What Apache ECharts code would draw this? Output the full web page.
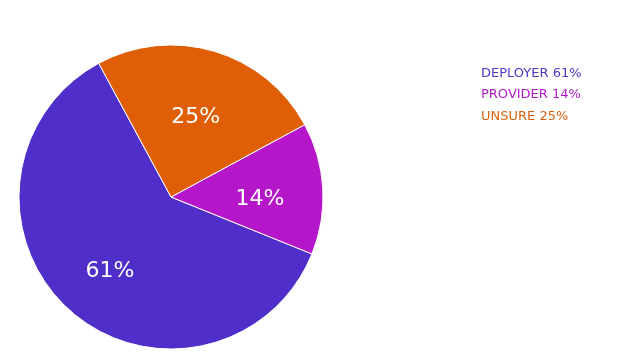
<!DOCTYPE html>
<html><head><meta charset="utf-8">
<script src="https://cdn.jsdelivr.net/npm/echarts@6/dist/echarts.min.js"></script>
<style>html,body{margin:0;padding:0;background:#fff}#c{width:640px;height:364px}</style>
</head><body><div id="c"></div>
<script>
const categories = ['DEPLOYER', 'PROVIDER', 'UNSURE'];
const values = [61, 14, 25];
const colors = ['#4F2ECA', '#B516C9', '#E05E05'];
const legendColors = ['#5036C8', '#B21ACA', '#D9620E'];

const data = categories.map((n, i) => ({ name: n, value: values[i], itemStyle: { color: colors[i] } }));
const font = 'DejaVu Sans';
const chart = echarts.init(document.getElementById('c'));
chart.setOption({
  animation: false,
  legend: {
    orient: 'vertical', left: 471, top: 62, itemWidth: 0, itemHeight: 0, itemGap: 8.5,
    icon: 'none', selectedMode: false,
    data: categories.map((n, i) => ({ name: n, textStyle: { color: legendColors[i] } })),
    formatter: n => n + ' ' + values[categories.indexOf(n)] + '%',
    textStyle: { fontFamily: font, fontSize: 13 }
  },
  series: [{
    type: 'pie', center: [171, 197], radius: [0, 152], clockwise: false, startAngle: 118.4,
    data: data, label: { show: false }, labelLine: { show: false },
    itemStyle: { borderColor: '#fff', borderWidth: 1 }, silent: true
  }, {
    type: 'pie', center: [171, 197], radius: [22, 152], clockwise: false, startAngle: 118.4,
    data: categories.map((n, i) => ({ name: n, value: values[i] })),
    itemStyle: { color: 'transparent' }, silent: true, legendHoverLink: false,
    label: { show: true, position: 'inside', formatter: p => p.value + '%', color: '#fff', fontFamily: font, fontSize: 22, offset: [-1, 7] },
    labelLine: { show: false }
  }]
});
</script></body></html>
